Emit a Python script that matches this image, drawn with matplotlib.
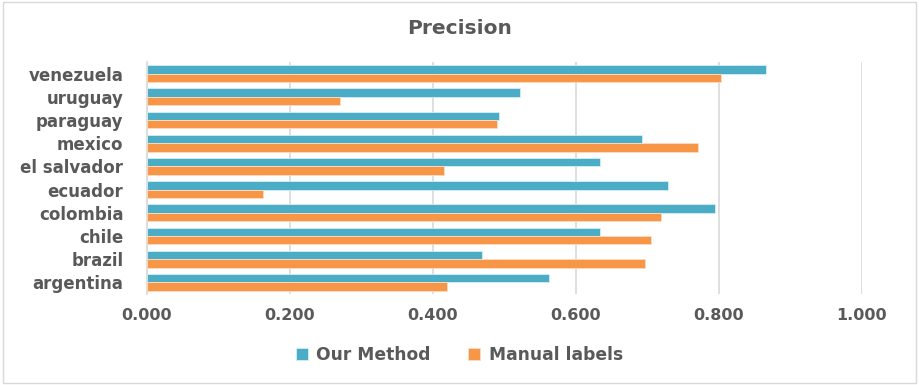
import matplotlib.pyplot as plt
import numpy as np
from matplotlib.patches import Rectangle

countries = ['argentina', 'brazil', 'chile', 'colombia', 'ecuador',
             'el salvador', 'mexico', 'paraguay', 'uruguay', 'venezuela']
our_method = [0.562, 0.469, 0.634, 0.794, 0.729, 0.634, 0.692, 0.492, 0.522, 0.866]
manual_labels = [0.419, 0.697, 0.705, 0.719, 0.162, 0.416, 0.771, 0.489, 0.270, 0.803]
xticks = [0.0, 0.2, 0.4, 0.6, 0.8, 1.0]

BLUE = '#4BACC6'
ORANGE = '#F79646'
TEXT = '#595959'

plt.rcParams['font.family'] = ['DejaVu Sans']

fig = plt.figure(figsize=(9.19, 3.85), dpi=100)
ax = fig.add_axes([147 / 919, 1 - 294 / 385, 715 / 919, 232 / 385])

y = np.arange(len(countries))
h = 0.36
ax.barh(y + h / 2, our_method, height=h, color=BLUE, edgecolor='#D6EEF4',
        linewidth=0.6, label='Our Method', zorder=3)
ax.barh(y - h / 2, manual_labels, height=h, color=ORANGE, edgecolor='#FCDCC4',
        linewidth=0.6, label='Manual labels', zorder=3)

ax.set_xlim(0, 1.0)
ax.set_ylim(-0.5, len(countries) - 0.5)
ax.set_xticks(xticks)
ax.set_xticklabels(['%.3f' % v for v in xticks], fontsize=11.5,
                   fontweight='bold', color=TEXT)
ax.set_yticks(y)
ax.set_yticklabels(countries, fontsize=12, fontweight='bold', color=TEXT)
ax.tick_params(axis='both', length=0)
ax.tick_params(axis='x', pad=10)
ax.tick_params(axis='y', pad=17)

ax.grid(axis='x', color='#D9D9D9', linewidth=1.2, zorder=0)
for side in ['top', 'right', 'bottom']:
    ax.spines[side].set_visible(False)
ax.spines['left'].set_color('#D9D9D9')
ax.spines['left'].set_linewidth(1.2)

fig.text(0.5, 1 - 29 / 385, 'Precision', ha='center', va='center',
         fontsize=14.5, fontweight='bold', color=TEXT)

ax.legend(loc='center', bbox_to_anchor=(0.5, 1 - 355 / 385),
          bbox_transform=fig.transFigure, ncol=2, frameon=False,
          handlelength=0.7, handleheight=0.7, columnspacing=2.2,
          handletextpad=0.5, prop={'size': 12.3, 'weight': 'bold'},
          labelcolor=TEXT)

fig.patches.append(Rectangle((0.003, 0.005), 0.994, 0.99, transform=fig.transFigure,
                             fill=False, edgecolor='#D9D9D9', linewidth=1.0))

fig.savefig('out.png', dpi=100, facecolor='white')
